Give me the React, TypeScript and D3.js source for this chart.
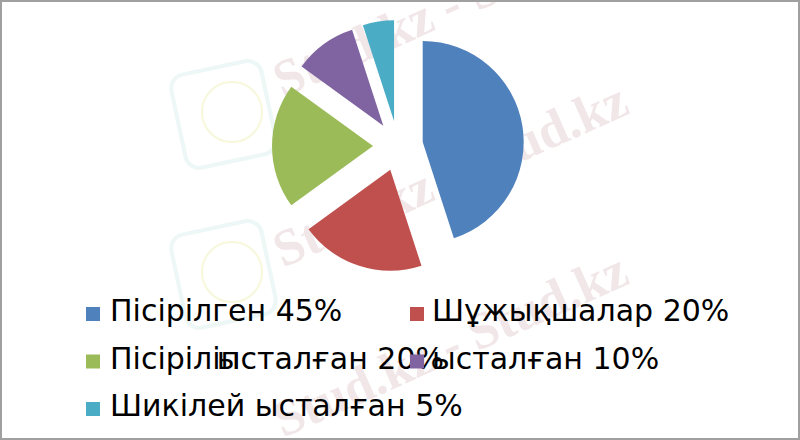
import React from "react";
import * as d3 from "d3";

const categories = [
  "Пісірілген",
  "Шұжықшалар",
  "Пісіріліп ысталған",
  "Шала ысталған",
  "Шикілей ысталған",
];
const values = [45, 20, 20, 10, 5];
const colors = ["#4F81BD", "#C0504D", "#9BBB59", "#8064A2", "#4BACC6"];
const watermark = "Stud.kz - Stud.kz";

const W = 800;
const H = 440;
const cx = 398;
const cy = 146;
const R = 101;
const explode = 25;

export default function App() {
  const pie = d3
    .pie<number>()
    .sort(null)
    .value((d) => d)
    .startAngle(0)
    .endAngle(2 * Math.PI);
  const arcs = pie(values);
  const arc = d3.arc<d3.PieArcDatum<number>>().innerRadius(0).outerRadius(R);

  const font = "'DejaVu Sans', sans-serif";
  const fs = 30;
  const row = (i: number) => 321 + i * 47.5;

  return (
    <div style={{ position: "absolute", left: 0, top: 0 }}>
      <svg width={W} height={H} style={{ display: "block" }}>
        <rect x={0} y={0} width={W} height={H} fill="#ffffff" />
        {/* watermark logos */}
        {[112, 272].map((y, i) => (
          <g key={"logo" + i} opacity={0.45}>
            <rect
              x={177}
              y={y - 45}
              width={92}
              height={95}
              rx={14}
              fill="none"
              stroke="#d8eeec"
              strokeWidth={4}
              transform={`rotate(-12 ${223} ${y})`}
            />
            <circle cx={232} cy={y} r={30} fill="none" stroke="#f0efb0" strokeWidth={2} />
          </g>
        ))}
        {/* watermark text */}
        {[98, 268, 438].map((y, i) => (
          <text
            key={"wm" + i}
            x={283}
            y={y}
            transform={`rotate(-24 283 ${y})`}
            fontFamily="'Liberation Serif', serif"
            fontWeight="bold"
            fontSize={52}
            fill="#f1e6e8"
          >
            {watermark}
          </text>
        ))}
        {/* pie */}
        <g transform={`translate(${cx},${cy})`}>
          {arcs.map((a, i) => {
            const mid = (a.startAngle + a.endAngle) / 2;
            const dx = Math.sin(mid) * explode;
            const dy = -Math.cos(mid) * explode;
            return (
              <path
                key={i}
                d={arc(a) || ""}
                fill={colors[i]}
                transform={`translate(${dx},${dy})`}
              />
            );
          })}
        </g>
        {/* legend */}
        <g fontFamily={font} fontSize={fs} fill="#000">
          <rect x={86} y={row(0) - 14} width={14} height={14} fill={colors[0]} />
          <text x={110} y={row(0)}>{`${categories[0]} ${values[0]}%`}</text>

          <rect x={410} y={row(0) - 14} width={14} height={14} fill={colors[1]} />
          <text x={432} y={row(0)}>{`${categories[1]} ${values[1]}%`}</text>

          <rect x={86} y={row(1) - 14} width={14} height={14} fill={colors[2]} />
          <text x={110} y={row(1)}>{categories[2].split(" ")[0]}</text>
          <text x={444} y={row(1)} textAnchor="end">{`${categories[2].split(" ")[1]} ${values[2]}%`}</text>

          <rect x={410} y={row(1) - 14} width={14} height={14} fill={colors[3]} />
          <text x={432} y={row(1)}>{`${categories[3].split(" ")[1]} ${values[3]}%`}</text>

          <rect x={86} y={row(2) - 14} width={14} height={14} fill={colors[4]} />
          <text x={110} y={row(2)}>{`${categories[4]} ${values[4]}%`}</text>
        </g>
        {/* border */}
        <rect x={1} y={1} width={W - 2} height={H - 2} fill="none" stroke="#a0a0a0" strokeWidth={2} />
      </svg>
    </div>
  );
}
